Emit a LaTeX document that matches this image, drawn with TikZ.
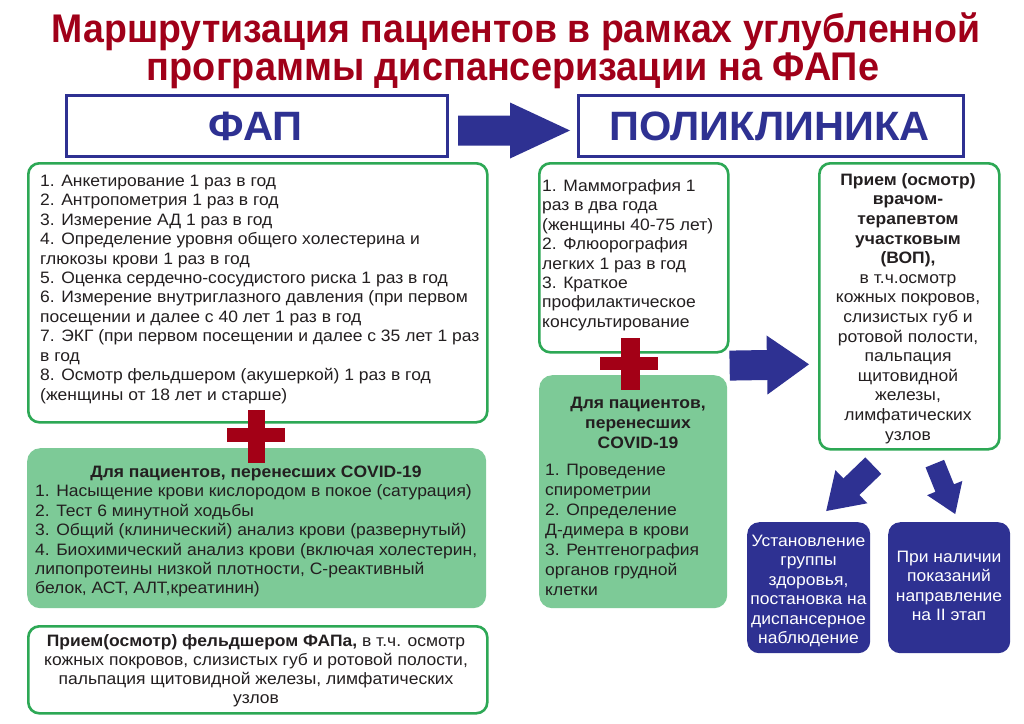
\documentclass[tikz,border=0pt]{standalone}
\usepackage{fontspec}
\setmainfont{Liberation Sans}[FakeStretch=1.06]
\usetikzlibrary{calc}
\definecolor{navy}{RGB}{46,49,146}
\definecolor{gborder}{RGB}{45,168,85}
\definecolor{gfill}{RGB}{125,202,151}
\definecolor{dred}{RGB}{163,0,22}
\definecolor{tred}{RGB}{160,0,25}
\definecolor{txt}{RGB}{35,31,32}
\newcommand\Tstr{\rule{0pt}{16.5pt}}
\newcommand\BlkArrow[5]{%
  \coordinate (hb) at ($(#2)!#5!(#1)$);
  \fill[navy] ($(#1)!#3!90:(#2)$) -- ($(hb)!#3!90:(#2)$) -- ($(hb)!#4!90:(#2)$) -- (#2)
    -- ($(hb)!#4!-90:(#2)$) -- ($(hb)!#3!-90:(#2)$) -- ($(#1)!#3!-90:(#2)$) -- cycle;}
\tikzset{
  gbox/.style={draw=gborder, line width=2.6pt, rounded corners=11pt, fill=white, inner sep=0pt, anchor=north west},
  gfbox/.style={fill=gfill, rounded corners=13pt, inner sep=0pt, anchor=north west},
  hbox/.style={draw=navy, line width=3pt, fill=white, inner sep=0pt, anchor=north west},
  nbox/.style={fill=navy, rounded corners=12pt, inner sep=0pt, anchor=north west},
  body/.style={inner sep=0pt, text=txt, font=\fontsize{16.5}{19.45}\selectfont},
  bl/.style={body, align=left, anchor=north west},
  bc/.style={body, align=center, anchor=north},
  ttl/.style={inner sep=0pt, anchor=base, text=tred, font=\fontsize{40}{44}\selectfont\bfseries},
  hdr/.style={inner sep=0pt, anchor=base, text=navy, font=\fontsize{41}{44}\selectfont\bfseries},
}
\begin{document}
\begin{tikzpicture}[x=1pt,y=-1pt]
\useasboundingbox (0,0) rectangle (1024,723);
\fill[white] (0,0) rectangle (1024,723);
% title
\node[ttl] (title1) at (516,42) {\resizebox{928pt}{\height}{Маршрутизация пациентов в рамках углубленной}};
\node[ttl] (title2) at (513,80) {\resizebox{732pt}{\height}{программы диспансеризации на ФАПе}};
% headers
\node[hbox, minimum width=381pt, minimum height=61pt] (fap) at (65,94) {};
\node[hdr] (faptext) at (255.5,140) {\resizebox{94pt}{\height}{ФАП}};
\node[hbox, minimum width=385pt, minimum height=61pt] (pol) at (577,94) {};
\node[hdr] (poltext) at (769.5,140) {\resizebox{320pt}{\height}{ПОЛИКЛИНИКА}};
% left column boxes
\node[gbox, minimum width=459pt, minimum height=259pt] (l1) at (27,162) {};
\node[bl] (l1t) at (40,169.5) {\Tstr 1. Анкетирование 1 раз в год\\
2. Антропометрия 1 раз в год\\
3. Измерение АД 1 раз в год\\
4. Определение уровня общего холестерина и\\
глюкозы крови 1 раз в год\\
5. Оценка сердечно-сосудистого риска 1 раз в год\\
6. Измерение внутриглазного давления (при первом\\
посещении и далее с 40 лет 1 раз в год\\
7. ЭКГ (при первом посещении и далее с 35 лет 1 раз\\
в год\\
8. Осмотр фельдшером (акушеркой) 1 раз в год\\
(женщины от 18 лет и старше)};
\node[gfbox, minimum width=459pt, minimum height=160pt] (l2) at (27,448) {};
\node[bc] (l2h) at (256,460.5) {\Tstr\textbf{Для пациентов, перенесших COVID-19}};
\node[bl] (l2t) at (35,480) {\Tstr 1. Насыщение крови кислородом в покое (сатурация)\\
2. Тест 6 минутной ходьбы\\
3. Общий (клинический) анализ крови (развернутый)\\
4. Биохимический анализ крови (включая холестерин,\\
липопротеины низкой плотности, С-реактивный\\
белок, АСТ, АЛТ,креатинин)};
\node[gbox, minimum width=459pt, minimum height=87pt] (l3) at (27,625) {};
\node[bc, font=\fontsize{16.5}{19}\selectfont] (l3t) at (256,629.5) {\Tstr\textbf{Прием(осмотр) фельдшером ФАПа,} в т.ч. осмотр\\
кожных покровов, слизистых губ и ротовой полости,\\
пальпация щитовидной железы, лимфатических\\
узлов};
% crosses
\fill[dred] (248,410) rectangle (265,463);
\fill[dred] (227,428) rectangle (285,442);
% middle column
\node[gbox, minimum width=189pt, minimum height=189pt] (m1) at (538,162) {};
\node[bl] (m1t) at (542,174.5) {\Tstr 1. Маммография 1\\
раз в два года\\
(женщины 40-75 лет)\\
2. Флюорография\\
легких 1 раз в год\\
3. Краткое\\
профилактическое\\
консультирование};
\node[gfbox, minimum width=188pt, minimum height=233pt] (m2) at (539,375) {};
\node[bc, font=\fontsize{16.5}{20}\selectfont] (m2h) at (638,391.5) {\Tstr\textbf{Для пациентов,}\\\textbf{перенесших}\\\textbf{COVID-19}};
\node[bl, font=\fontsize{16.5}{20}\selectfont] (m2t) at (545,458.5) {\Tstr 1. Проведение\\
спирометрии\\
2. Определение\\
Д-димера в крови\\
3. Рентгенография\\
органов грудной\\
клетки};
\fill[dred] (621,338) rectangle (640,390);
\fill[dred] (600,357) rectangle (658,370);
% right column
\node[gbox, minimum width=180pt, minimum height=286pt] (r1) at (818,162) {};
\node[bc, font=\fontsize{16.5}{19.6}\selectfont] (r1t) at (908,168.5) {\Tstr\textbf{Прием (осмотр)}\\
\textbf{врачом-}\\
\textbf{терапевтом}\\
\textbf{участковым}\\
\textbf{(ВОП),}\\
в т.ч.осмотр\\
кожных покровов,\\
слизистых губ и\\
ротовой полости,\\
пальпация\\
щитовидной\\
железы,\\
лимфатических\\
узлов};
\node[nbox, minimum width=123pt, minimum height=131pt] (bl1) at (747,522) {};
\node[bc, text=white] (bl1t) at (808.5,529.5) {\Tstr Установление\\
группы\\
здоровья,\\
постановка на\\
диспансерное\\
наблюдение};
\node[nbox, minimum width=122pt, minimum height=131pt] (bl2) at (888,522) {};
\node[bc, text=white] (bl2t) at (949,545.5) {\Tstr При наличии\\
показаний\\
направление\\
на II этап};
% arrows
\coordinate (a1s) at ($(fap.east)+(9,4.5)$);
\coordinate (a1e) at ($(pol.west)+(-7,4.5)$);
\BlkArrow{a1s}{a1e}{15pt}{28pt}{60pt}
\coordinate (a2s) at ($(m1.south east)+(0,12)$);
\coordinate (a2e) at ($(r1.west)+(-9,58)$);
\BlkArrow{a2s}{a2e}{15pt}{29.5pt}{42pt}
\coordinate (a3s) at ($(r1.south)+(-36,15)$);
\coordinate (a3e) at ($(bl1.north)+(17.5,-11)$);
\BlkArrow{a3s}{a3e}{11.5pt}{23pt}{35pt}
\coordinate (a4s) at ($(r1.south)+(25.5,13)$);
\coordinate (a4e) at ($(bl2.north)+(6,-8)$);
\BlkArrow{a4s}{a4e}{10pt}{19pt}{28pt}
\end{tikzpicture}
\end{document}
